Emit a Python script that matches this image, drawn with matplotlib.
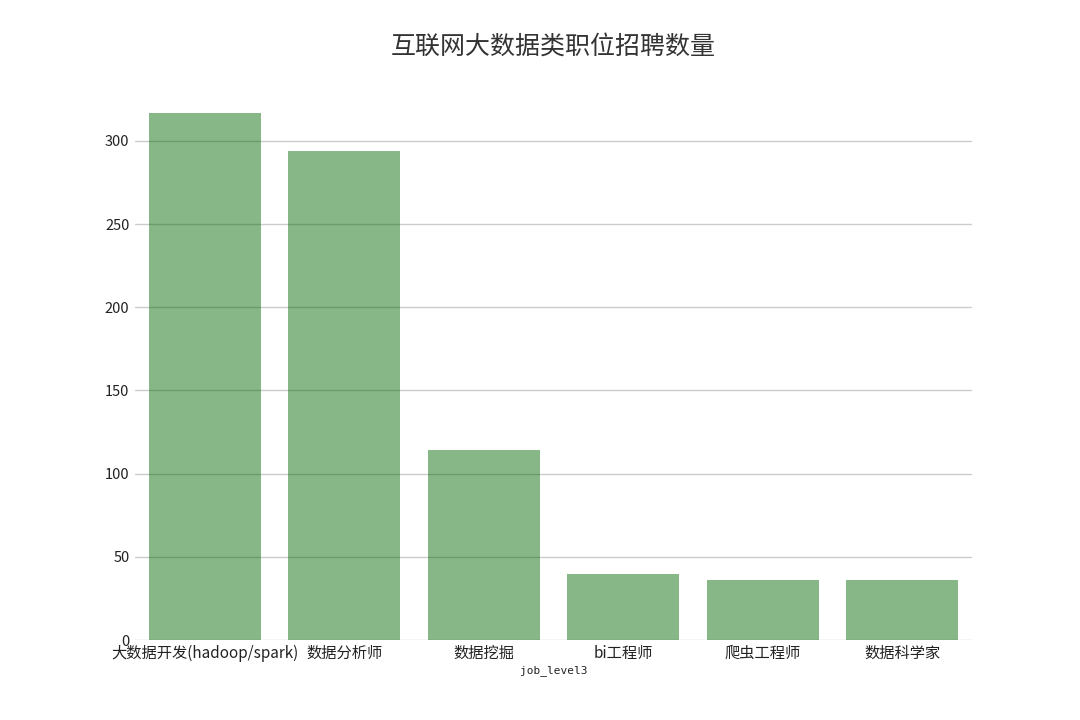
import matplotlib
matplotlib.use("Agg")
import matplotlib.pyplot as plt

plt.rcParams['font.family'] = ['Noto Sans CJK SC', 'DejaVu Sans']

categories = ["大数据开发(hadoop/spark)", "数据分析师", "数据挖掘", "bi工程师", "爬虫工程师", "数据科学家"]
counts = [317, 294, 114, 40, 36, 36]

fig = plt.figure(figsize=(10.8, 7.2), dpi=100)
ax = fig.add_axes([0.125, 0.111, 0.775, 0.772])
ax.yaxis.grid(True, color='#cccccc', linewidth=1)
ax.set_axisbelow(True)
x = list(range(len(categories)))
ax.bar(x, counts, width=0.8, color='darkgreen', alpha=0.47)
ax.set_xticks(x)
ax.set_xticklabels(categories, fontsize=11, color='#222222')
ax.set_yticks([0, 50, 100, 150, 200, 250, 300])
ax.tick_params(axis='y', labelsize=10.5, colors='#222222', length=0, pad=4)
ax.tick_params(axis='x', length=0, pad=3.5)
ax.set_xlim(-0.5, 5.5)
ax.set_ylim(0, 334)
for s in ax.spines.values():
    s.set_visible(False)
ax.set_xlabel("job_level3", fontsize=8, family='DejaVu Sans Mono', color='#222222', labelpad=2)
ax.set_title("互联网大数据类职位招聘数量", fontsize=18, color='#333333', pad=22)
fig.savefig("out.png", dpi=100)
